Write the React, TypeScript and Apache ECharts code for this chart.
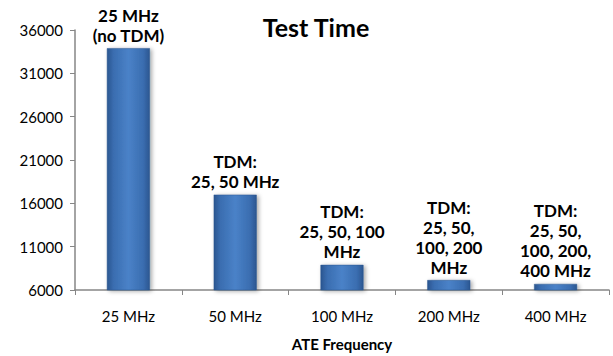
import React, { useEffect, useRef } from "react";
import * as echarts from "echarts";

const categories = ["25 MHz", "50 MHz", "100 MHz", "200 MHz", "400 MHz"];
const testTimes = [33900, 17000, 8900, 7150, 6700];
const barLabels = [
  "25 MHz\n(no TDM)",
  "TDM:\n25, 50 MHz",
  "TDM:\n25, 50, 100\nMHz",
  "TDM:\n25, 50,\n100, 200\nMHz",
  "TDM:\n25, 50,\n100, 200,\n400 MHz",
];
const yMin = 6000;
const yMax = 36000;
const yInterval = 5000;

export default function App() {
  const ref = useRef<HTMLDivElement>(null);
  useEffect(() => {
    if (!ref.current) return;
    const chart = echarts.init(ref.current, undefined, { renderer: "svg" });
    const barColor = new echarts.graphic.LinearGradient(0, 0, 1, 0, [
      { offset: 0, color: "#2b5690" },
      { offset: 0.15, color: "#3a6db0" },
      { offset: 0.5, color: "#4a82c8" },
      { offset: 0.85, color: "#3a6db0" },
      { offset: 1, color: "#2b5690" },
    ]);
    chart.setOption({
      animation: false,
      backgroundColor: "#ffffff",
      title: {
        text: "Test Time",
        left: 311,
        top: 9,
        textAlign: "center",
        textStyle: { fontFamily: "Lato", fontWeight: "bold", fontSize: 25, color: "#000" },
      },
      grid: { left: 75, right: 4, top: 30, bottom: 66, containLabel: false },
      xAxis: {
        type: "category",
        data: categories,
        name: "ATE Frequency",
        nameLocation: "middle",
        nameGap: 46,
        nameTextStyle: { fontFamily: "Lato", fontWeight: "bold", fontSize: 15, color: "#000" },
        axisLine: { lineStyle: { color: "#868686", width: 1.5 } },
        axisTick: { show: true, length: 5, inside: false, alignWithLabel: false, lineStyle: { color: "#868686" } },
        axisLabel: { fontFamily: "Lato", fontSize: 15, color: "#000", margin: 18 },
        splitLine: { show: false },
      },
      yAxis: {
        type: "value",
        min: yMin,
        max: yMax,
        interval: yInterval,
        axisLine: { show: true, lineStyle: { color: "#868686", width: 1.5 } },
        axisTick: { show: true, length: 5, lineStyle: { color: "#868686" } },
        axisLabel: {
          fontFamily: "Lato",
          fontSize: 15,
          color: "#000",
          margin: 12,
          formatter: (v: number) => String(v),
        },
        splitLine: { show: false },
      },
      series: [
        {
          type: "bar",
          data: testTimes.map((v, i) => ({
            value: v,
            label: { formatter: barLabels[i] },
          })),
          barWidth: 43,
          itemStyle: {
            color: barColor,
            borderColor: "#2a568f",
            borderWidth: 0.5,
            shadowColor: "rgba(0,0,0,0.35)",
            shadowBlur: 4,
            shadowOffsetX: 2,
            shadowOffsetY: 1,
          },
          label: {
            show: true,
            position: "top",
            distance: 3,
            fontFamily: "Lato",
            fontWeight: "bold",
            fontSize: 17,
            lineHeight: 20,
            color: "#000",
            align: "center",
          },
        },
      ],
    });
    return () => chart.dispose();
  }, []);
  return <div ref={ref} style={{ width: 613, height: 356, position: "absolute", left: 0, top: 0 }} />;
}
